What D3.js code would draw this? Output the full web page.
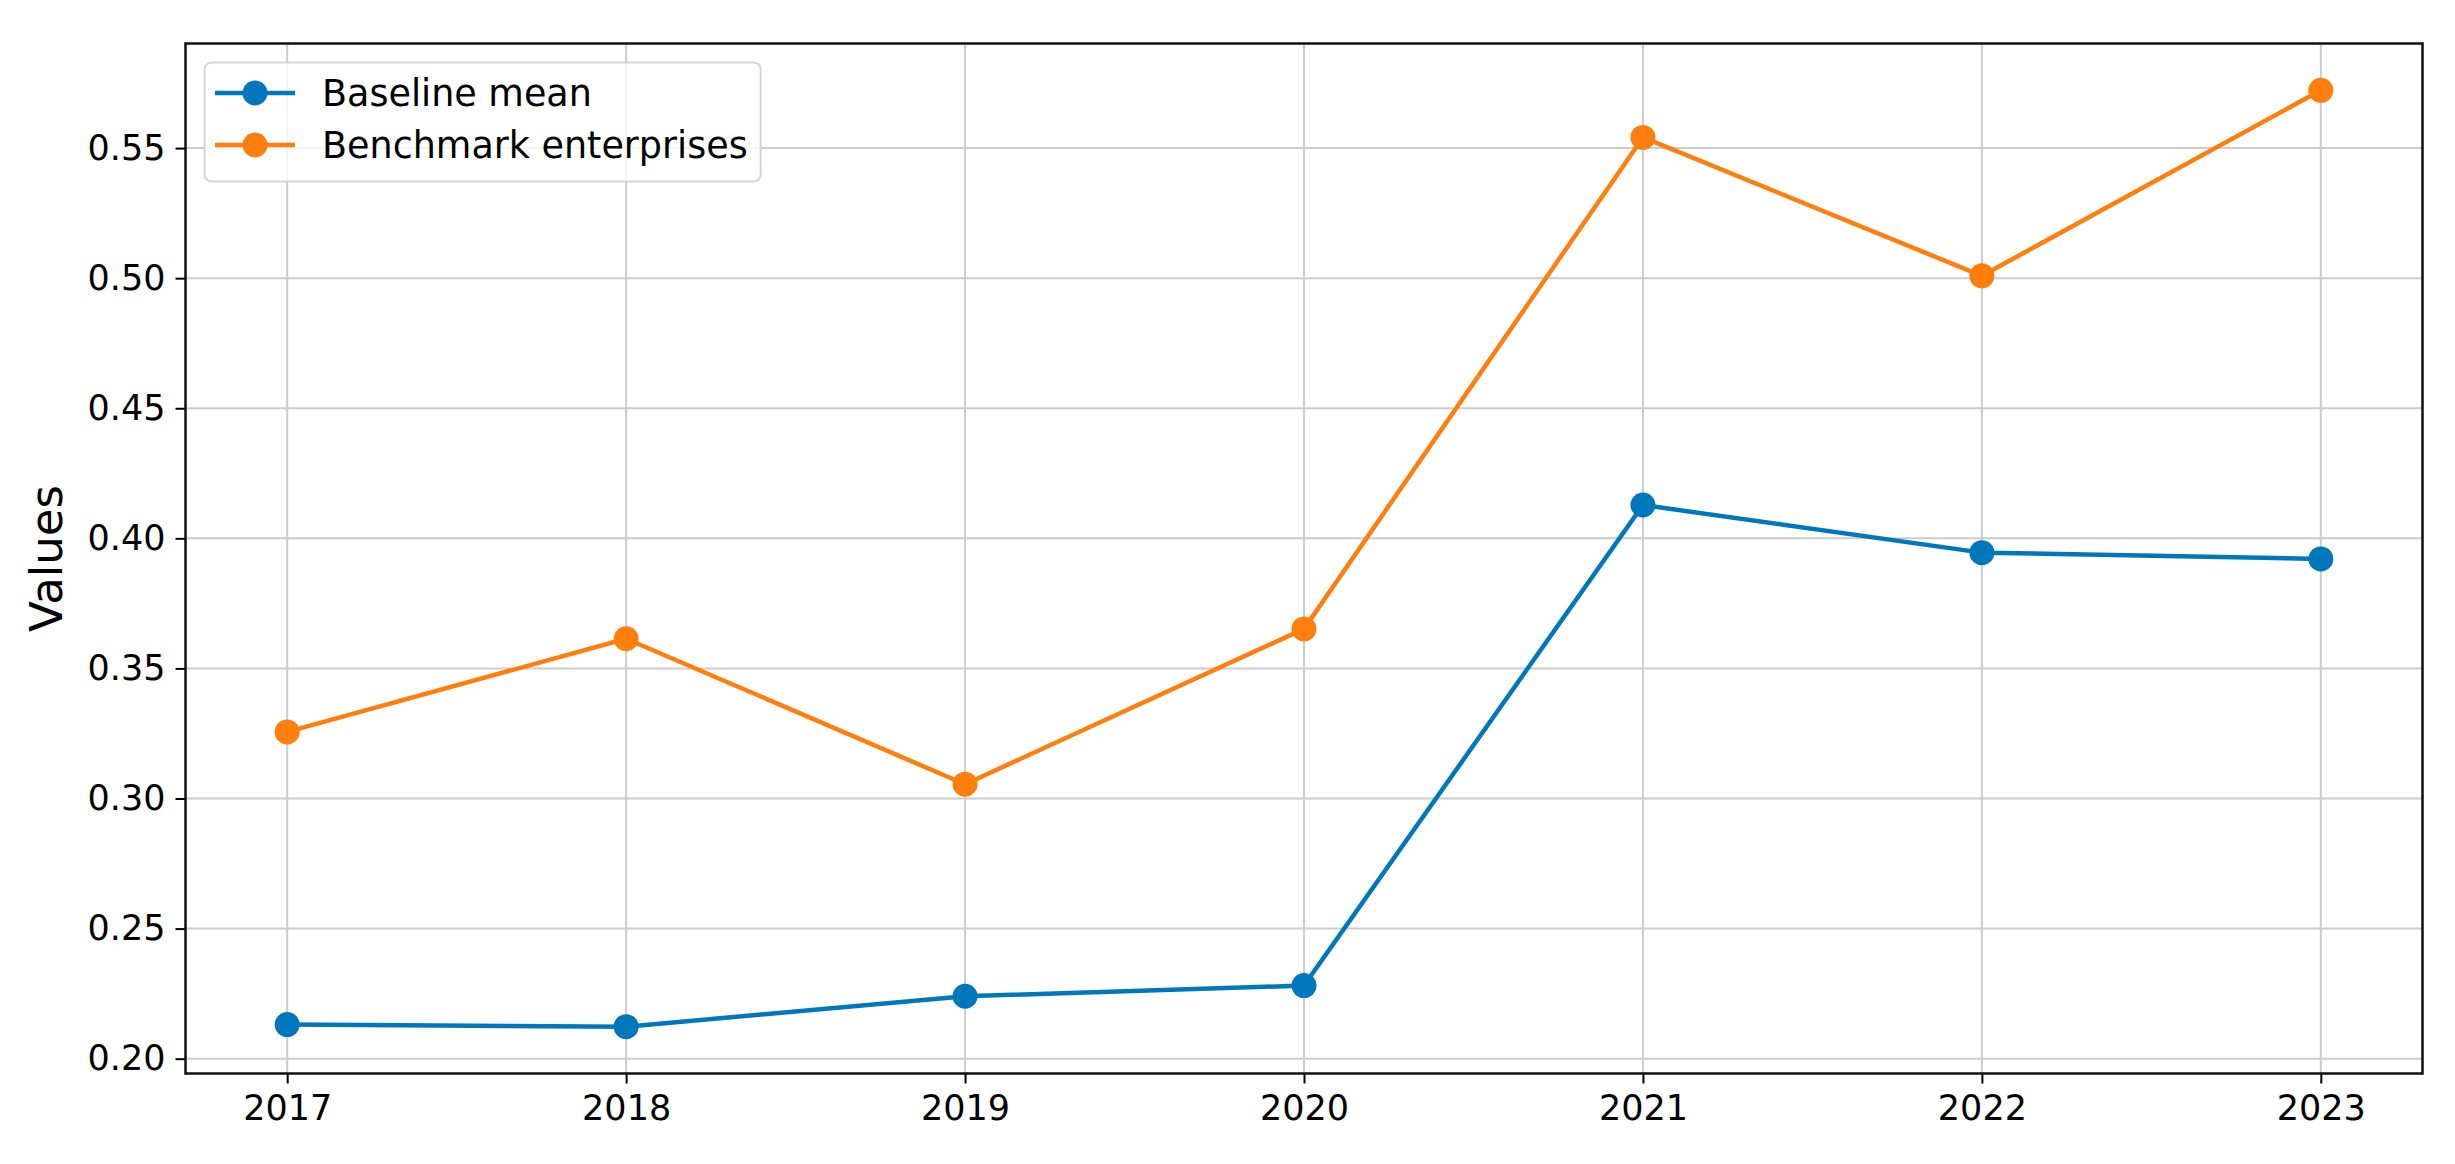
<!DOCTYPE html>
<html>
<head>
<meta charset="utf-8">
<script src="https://cdn.jsdelivr.net/npm/d3@7"></script>
<style>
  html, body { margin: 0; padding: 0; background: #fff; }
  svg { display: block; }
  text { font-family: "DejaVu Sans", sans-serif; fill: #000; }
</style>
</head>
<body>
<svg id="chart" width="2455" height="1164"></svg>
<script>
// ---- data ----
const years = [2017, 2018, 2019, 2020, 2021, 2022, 2023];
const baselineMean = [0.2131, 0.2123, 0.2240, 0.2281, 0.4128, 0.3945, 0.3921];
const benchmarkEnterprises = [0.3256, 0.3614, 0.3055, 0.3652, 0.5541, 0.5009, 0.5722];
const seriesNames = ["Baseline mean", "Benchmark enterprises"];
const seriesColors = ["#0077bb", "#ff7f0e"];
const yTicks = [0.20, 0.25, 0.30, 0.35, 0.40, 0.45, 0.50, 0.55];
const yLabel = "Values";

const series = [
  { name: seriesNames[0], color: seriesColors[0], values: baselineMean },
  { name: seriesNames[1], color: seriesColors[1], values: benchmarkEnterprises }
];

// ---- layout ----
const plot = { left: 185.5, right: 2422.5, top: 43.5, bottom: 1073.5 };

const svg = d3.select("#chart");

// matplotlib-like 5% margins
const xMin = d3.min(years), xMax = d3.max(years);
const xPad = (xMax - xMin) * 0.05;
const allVals = baselineMean.concat(benchmarkEnterprises);
const vMin = d3.min(allVals), vMax = d3.max(allVals);
const yPad = (vMax - vMin) * 0.05;

const x = d3.scaleLinear().domain([xMin - xPad, xMax + xPad]).range([plot.left, plot.right]);
const y = d3.scaleLinear().domain([vMin - yPad, vMax + yPad]).range([plot.bottom, plot.top]);

// ---- grid ----
const grid = svg.append("g").attr("class", "grid");
grid.selectAll("line.gx").data(years).enter().append("line")
  .attr("x1", d => x(d)).attr("x2", d => x(d))
  .attr("y1", plot.top).attr("y2", plot.bottom)
  .attr("stroke", "#cccccc").attr("stroke-width", 2);
grid.selectAll("line.gy").data(yTicks).enter().append("line")
  .attr("x1", plot.left).attr("x2", plot.right)
  .attr("y1", d => y(d)).attr("y2", d => y(d))
  .attr("stroke", "#cccccc").attr("stroke-width", 2);

// ---- axes ----
const xAxis = d3.axisBottom(x).tickValues(years).tickFormat(d3.format("d")).tickSize(10).tickPadding(12);
const yAxis = d3.axisLeft(y).tickValues(yTicks).tickFormat(d3.format(".2f")).tickSize(10).tickPadding(10);

const gx = svg.append("g").attr("transform", `translate(0,${plot.bottom})`).call(xAxis);
const gy = svg.append("g").attr("transform", `translate(${plot.left},0)`).call(yAxis);
[gx, gy].forEach(g => {
  g.select(".domain").remove();
  g.selectAll(".tick line").attr("stroke", "#000").attr("stroke-width", 2);
  g.selectAll(".tick text").style("font-size", "35px").style("font-family", "DejaVu Sans, sans-serif").attr("fill", "#000");
});

// ---- frame ----
svg.append("rect")
  .attr("x", plot.left).attr("y", plot.top)
  .attr("width", plot.right - plot.left).attr("height", plot.bottom - plot.top)
  .attr("fill", "none").attr("stroke", "#111").attr("stroke-width", 2.5);

// ---- lines & markers ----
const line = d3.line().x((d, i) => x(years[i])).y(d => y(d));
series.forEach(s => {
  const g = svg.append("g");
  g.append("path").datum(s.values)
    .attr("d", line).attr("fill", "none")
    .attr("stroke", s.color).attr("stroke-width", 4.5).attr("stroke-linejoin", "round");
  g.selectAll("circle").data(s.values).enter().append("circle")
    .attr("cx", (d, i) => x(years[i])).attr("cy", d => y(d))
    .attr("r", 12.5).attr("fill", s.color);
});

// ---- y label ----
svg.append("text")
  .attr("transform", `translate(62,${(plot.top + plot.bottom) / 2}) rotate(-90)`)
  .attr("text-anchor", "middle")
  .style("font-size", "45px")
  .text(yLabel);

// ---- legend ----
const lg = svg.append("g");
const lgBox = lg.append("rect")
  .attr("x", 204.5).attr("y", 62.5).attr("rx", 7).attr("ry", 7)
  .attr("height", 119)
  .attr("fill", "#fff").attr("fill-opacity", 0.8)
  .attr("stroke", "#d6d6d6").attr("stroke-width", 2);
const rowY = [93, 145];
let maxW = 0;
series.forEach((s, i) => {
  lg.append("line").attr("x1", 215).attr("x2", 295)
    .attr("y1", rowY[i]).attr("y2", rowY[i])
    .attr("stroke", s.color).attr("stroke-width", 4.5);
  lg.append("circle").attr("cx", 255).attr("cy", rowY[i]).attr("r", 12.5).attr("fill", s.color);
  const t = lg.append("text").attr("x", 322).attr("y", rowY[i]).attr("dy", "0.36em")
    .style("font-size", "36.5px").text(s.name);
  maxW = Math.max(maxW, t.node().getComputedTextLength());
});
lgBox.attr("width", 322 + maxW + 13 - 204.5);
</script>
</body>
</html>
